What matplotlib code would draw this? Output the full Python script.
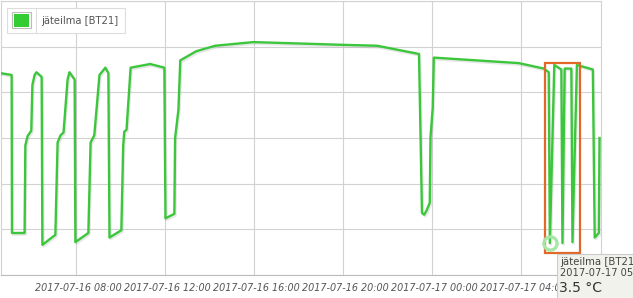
import numpy as np
import pandas as pd
import matplotlib
matplotlib.use("Agg")
import matplotlib.pyplot as plt
import matplotlib.dates as mdates
import matplotlib.patheffects as pe
from matplotlib.patches import Rectangle
import matplotlib.transforms as mtransforms

# jäteilma [BT21] readings
times = ["2017-07-16 04:37", "2017-07-16 05:07", "2017-07-16 05:08", "2017-07-16 05:42", "2017-07-16 05:44",
         "2017-07-16 05:50", "2017-07-16 06:00", "2017-07-16 06:03", "2017-07-16 06:09", "2017-07-16 06:14",
         "2017-07-16 06:28", "2017-07-16 06:30", "2017-07-16 07:05", "2017-07-16 07:11", "2017-07-16 07:19",
         "2017-07-16 07:27", "2017-07-16 07:38", "2017-07-16 07:43", "2017-07-16 07:57", "2017-07-16 07:59",
         "2017-07-16 08:34", "2017-07-16 08:40", "2017-07-16 08:50", "2017-07-16 09:04", "2017-07-16 09:20",
         "2017-07-16 09:28", "2017-07-16 09:31", "2017-07-16 10:03", "2017-07-16 10:08", "2017-07-16 10:11",
         "2017-07-16 10:17", "2017-07-16 10:28", "2017-07-16 11:21", "2017-07-16 11:59", "2017-07-16 12:02",
         "2017-07-16 12:26", "2017-07-16 12:28", "2017-07-16 12:37", "2017-07-16 12:42", "2017-07-16 13:25",
         "2017-07-16 14:16", "2017-07-16 15:59", "2017-07-16 20:01", "2017-07-16 21:33", "2017-07-16 23:26",
         "2017-07-16 23:34", "2017-07-16 23:40", "2017-07-16 23:47", "2017-07-16 23:55", "2017-07-16 23:57",
         "2017-07-17 00:03", "2017-07-17 00:06", "2017-07-17 03:55", "2017-07-17 05:03", "2017-07-17 05:16",
         "2017-07-17 05:19", "2017-07-17 05:31", "2017-07-17 05:50", "2017-07-17 05:53", "2017-07-17 05:59",
         "2017-07-17 06:17", "2017-07-17 06:20", "2017-07-17 06:32", "2017-07-17 07:15", "2017-07-17 07:20",
         "2017-07-17 07:31", "2017-07-17 07:33"]
values = [22.1, 21.9, 4.6, 4.6, 14.2, 15.2, 15.8, 20.8, 21.9, 22.2,
          21.7, 3.3, 4.4, 14.5, 15.3, 15.6, 21.4, 22.2, 21.4, 3.6,
          4.6, 14.5, 15.3, 21.9, 22.7, 22.1, 4.1, 4.9, 14.2, 15.7,
          15.9, 22.7, 23.1, 22.7, 6.2, 6.7, 15.0, 18.1, 23.5, 24.5,
          25.1, 25.5, 25.2, 25.1, 24.2, 6.8, 6.6, 7.1, 7.9, 15.1,
          18.3, 23.8, 23.2, 22.6, 22.2, 3.5, 23.0, 22.5, 3.5, 22.6,
          22.6, 3.6, 23.0, 22.5, 4.1, 4.6, 15.0]
series_name = "jäteilma [BT21]"
hover_idx = 55
x_start, x_end = "2017-07-16 04:37", "2017-07-17 07:37"
sel_start, sel_end = "2017-07-17 05:05", "2017-07-17 06:40"
sel_low, sel_high = 2.4, 23.25

t = pd.to_datetime(times)
W, H = 633, 298
green = "#3cc63c"
grid_c = "#d2d2d2"

def px(x, y):
    return (x / W, 1 - y / H)

fig = plt.figure(figsize=(W / 100, H / 100), dpi=100)
ax = fig.add_axes([0.5 / W, 1 - 275 / H, 600.5 / W, 274 / H])

ax.plot(t, values, color=green, lw=1.7, solid_joinstyle="round", zorder=3,
        path_effects=[pe.SimpleLineShadow(offset=(0.8, -1.2), shadow_color="#888888", alpha=0.2),
                      pe.Normal()])

ax.set_xlim(pd.Timestamp(x_start), pd.Timestamp(x_end))
ax.set_ylim(0, 30)
ax.set_yticks(np.arange(0, 31, 5))
ax.yaxis.set_ticklabels([])
ax.xaxis.set_major_locator(mdates.HourLocator(byhour=range(0, 24, 4)))
ax.xaxis.set_major_formatter(mdates.DateFormatter("%Y-%m-%d %H:%M"))
ax.tick_params(length=0, pad=6)
ax.grid(True, color=grid_c, lw=0.8)
for s in ax.spines.values():
    s.set_color(grid_c)
    s.set_linewidth(0.8)
ax.spines["bottom"].set_color("#bbbbbb")
ax.set_axisbelow(True)

shift = mtransforms.ScaledTranslation(3 / 100, 0, fig.dpi_scale_trans)
for lab in ax.get_xticklabels():
    lab.set_fontsize(6.9)
    lab.set_fontstyle("italic")
    lab.set_color("#555555")
    lab.set_transform(lab.get_transform() + shift)

# selection rectangle
s0 = mdates.date2num(pd.Timestamp(sel_start))
s1 = mdates.date2num(pd.Timestamp(sel_end))
ax.add_patch(Rectangle((s0, sel_low), s1 - s0, sel_high - sel_low, fill=False,
                       edgecolor="#e0692a", lw=1.6, zorder=5))

# hovered point
ax.plot(t[hover_idx], values[hover_idx], "o", ms=9.5, mfc="none", mec="#a8e6a8",
        mew=2.4, zorder=6)

# legend
fig.add_artist(Rectangle(px(6.5, 33), 118.5 / W, 25.5 / H, transform=fig.transFigure,
                         facecolor="white", edgecolor="#dddddd", lw=0.8, zorder=4))
fig.add_artist(Rectangle(px(11.5, 28), 19 / W, 16 / H, transform=fig.transFigure,
                         facecolor="white", edgecolor="#bbbbbb", lw=0.8, zorder=5))
fig.add_artist(Rectangle(px(13.5, 26.5), 15 / W, 13 / H, transform=fig.transFigure,
                         facecolor="#33cc33", edgecolor="none", zorder=6))
fig.add_artist(plt.Line2D([36 / W, 36 / W], [1 - 8 / H, 1 - 33 / H], transform=fig.transFigure,
                          color="#dddddd", lw=0.8, zorder=5))
fig.text(*px(41, 21), series_name, fontsize=7.2, color="#555555", va="center", ha="left", zorder=6)

# tooltip
fig.add_artist(Rectangle(px(557, 300), 90 / W, 46 / H, transform=fig.transFigure,
                         facecolor="#f2f2ec", edgecolor="#cccccc", lw=0.8, zorder=7))
fig.text(*px(560, 262), series_name, fontsize=7.3, color="#444444", va="center", zorder=8)
fig.text(*px(560, 273.5), t[hover_idx].strftime("%Y-%m-%d %H:%M"), fontsize=7.1, color="#444444",
         va="center", zorder=8)
fig.text(*px(559, 287.5), "%.1f °C" % values[hover_idx], fontsize=10, color="#333333",
         va="center", zorder=8)

fig.savefig("out.png", dpi=100)
